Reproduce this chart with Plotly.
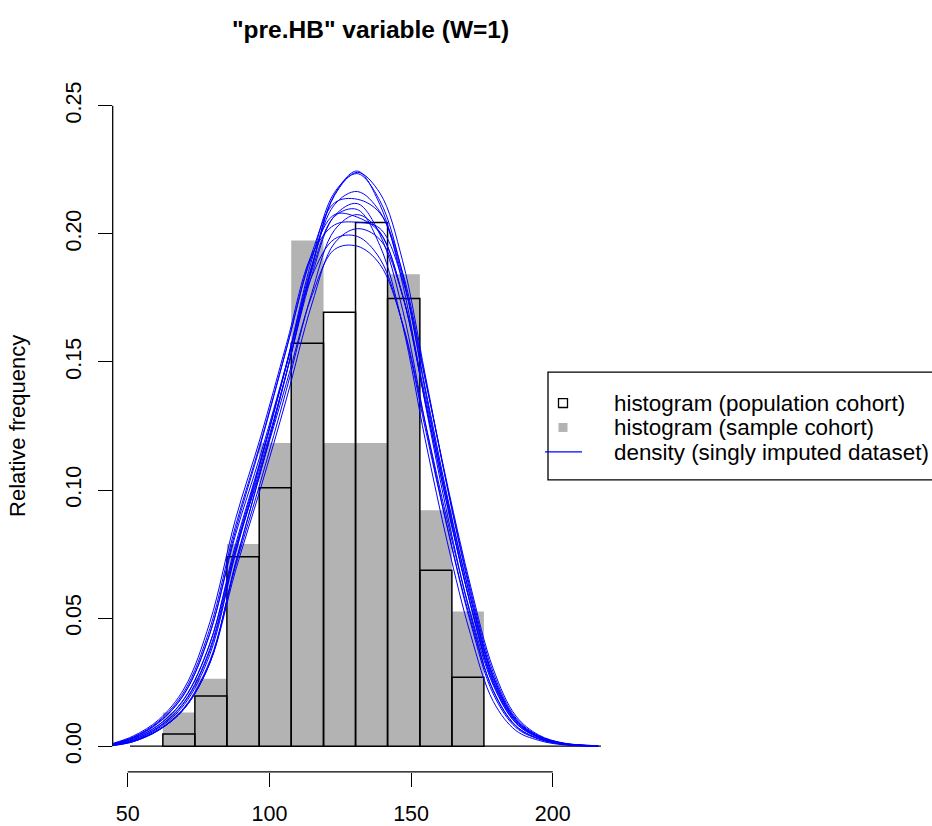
import plotly.graph_objects as go

# ---------------- data ----------------
bin_edges = [62.4, 73.7, 85.0, 96.4, 107.7, 119.1, 130.4, 141.7, 153.1, 164.4, 175.7]
sample_relfreq = [0.0132, 0.0263, 0.0789, 0.1184, 0.1974, 0.1184, 0.1184, 0.1842, 0.0921, 0.0526]
population_relfreq = [0.0048, 0.0196, 0.0740, 0.1009, 0.1573, 0.1694, 0.2044, 0.1748, 0.0687, 0.0269]

dens_x = [45, 52, 61, 70, 79, 88, 97, 106, 115, 123, 131, 139, 147, 155, 163, 171, 179, 187, 195, 204, 216]
dens_a = [0.0003, 0.0018, 0.0063, 0.0147, 0.0326, 0.0713, 0.1077, 0.1456, 0.1871, 0.2154, 0.2245, 0.2114, 0.1805, 0.1336, 0.0894, 0.0510, 0.0216, 0.0078, 0.0029, 0.0007, 0.0001]
dens_b = [0.0005, 0.0022, 0.0071, 0.0163, 0.0358, 0.0752, 0.1113, 0.1492, 0.1900, 0.2162, 0.2235, 0.2129, 0.1843, 0.1387, 0.0943, 0.0551, 0.0244, 0.0090, 0.0034, 0.0008, 0.0001]
dens_c = [0.0006, 0.0026, 0.0077, 0.0174, 0.0380, 0.0770, 0.1118, 0.1488, 0.1878, 0.2114, 0.2165, 0.2086, 0.1830, 0.1399, 0.0964, 0.0576, 0.0264, 0.0100, 0.0037, 0.0010, 0.0001]
dens_d = [0.0009, 0.0033, 0.0092, 0.0204, 0.0439, 0.0840, 0.1182, 0.1550, 0.1925, 0.2121, 0.2135, 0.2081, 0.1850, 0.1435, 0.1002, 0.0609, 0.0287, 0.0110, 0.0041, 0.0011, 0.0002]
dens_e = [0.0007, 0.0029, 0.0083, 0.0185, 0.0400, 0.0786, 0.1123, 0.1484, 0.1857, 0.2068, 0.2095, 0.1954, 0.1644, 0.1196, 0.0786, 0.0436, 0.0175, 0.0061, 0.0023, 0.0005, 0.0001]
dens_f = [0.0010, 0.0036, 0.0098, 0.0215, 0.0459, 0.0858, 0.1190, 0.1551, 0.1911, 0.2075, 0.2065, 0.2004, 0.1759, 0.1345, 0.0927, 0.0553, 0.0253, 0.0096, 0.0036, 0.0009, 0.0001]
dens_g = [0.0012, 0.0040, 0.0104, 0.0227, 0.0484, 0.0885, 0.1211, 0.1569, 0.1919, 0.2035, 0.2045, 0.2021, 0.1820, 0.1431, 0.1011, 0.0625, 0.0302, 0.0118, 0.0044, 0.0012, 0.0002]
dens_h = [0.0004, 0.0020, 0.0064, 0.0148, 0.0325, 0.0683, 0.1011, 0.1355, 0.1726, 0.1964, 0.2020, 0.1978, 0.1759, 0.1364, 0.0952, 0.0579, 0.0273, 0.0105, 0.0039, 0.0011, 0.0002]
dens_i = [0.0010, 0.0035, 0.0094, 0.0206, 0.0441, 0.0824, 0.1143, 0.1490, 0.1835, 0.1980, 0.1990, 0.1903, 0.1648, 0.1241, 0.0843, 0.0492, 0.0218, 0.0080, 0.0030, 0.0008, 0.0001]
dens_j = [0.0008, 0.0031, 0.0084, 0.0187, 0.0401, 0.0768, 0.1080, 0.1417, 0.1759, 0.1939, 0.1952, 0.1881, 0.1650, 0.1262, 0.0870, 0.0519, 0.0238, 0.0090, 0.0034, 0.0009, 0.0001]
dens_k = [0.0003, 0.0018, 0.0063, 0.0147, 0.0325, 0.0712, 0.1075, 0.1453, 0.1867, 0.2150, 0.2240, 0.2159, 0.1895, 0.1449, 0.0998, 0.0596, 0.0273, 0.0103, 0.0039, 0.0010, 0.0001]
dens_l = [0.0006, 0.0025, 0.0075, 0.0171, 0.0372, 0.0754, 0.1095, 0.1457, 0.1839, 0.2070, 0.2118, 0.1997, 0.1704, 0.1262, 0.0844, 0.0481, 0.0204, 0.0073, 0.0028, 0.0007, 0.0001]
dens_m = [0.0004, 0.0021, 0.0066, 0.0152, 0.0334, 0.0701, 0.1037, 0.1391, 0.1771, 0.2015, 0.2075, 0.2007, 0.1761, 0.1346, 0.0928, 0.0554, 0.0254, 0.0096, 0.0036, 0.0009, 0.0001]
density_curves = [dens_a, dens_b, dens_c, dens_d, dens_e, dens_f, dens_g,
                  dens_h, dens_i, dens_j, dens_k, dens_l, dens_m]

x_ticks = [50, 100, 150, 200]
y_ticks = [0.00, 0.05, 0.10, 0.15, 0.20, 0.25]
y_tick_labels = ["0.00", "0.05", "0.10", "0.15", "0.20", "0.25"]

title_text = '"pre.HB" variable (W=1)'
y_title = "Relative frequency"
legend_labels = ["histogram (population cohort)", "histogram (sample cohort)",
                 "density (singly imputed dataset)"]

# ---------------- layout geometry (pixels) ----------------
W, H = 932, 826
FONT = "Liberation Sans, Arial, Helvetica, sans-serif"
px_left, px_right = 112.7, 627.0
py_top, py_bottom = 80.3, 773.7
x_range = [44.7, 226.2]
y_range = [-0.01, 0.26]


def fx(px):
    return px / W


def fy(py):
    return 1 - py / H


centers = [(bin_edges[i] + bin_edges[i + 1]) / 2 for i in range(len(bin_edges) - 1)]
widths = [bin_edges[i + 1] - bin_edges[i] for i in range(len(bin_edges) - 1)]

fig = go.Figure()

# sample cohort: filled grey bars
fig.add_trace(go.Bar(x=centers, y=sample_relfreq, width=widths,
                     marker=dict(color="#B3B3B3", line=dict(width=0)),
                     showlegend=False, hoverinfo="skip"))
# population cohort: open black bars
fig.add_trace(go.Bar(x=centers, y=population_relfreq, width=widths,
                     marker=dict(color="rgba(0,0,0,0)", line=dict(color="black", width=1.5)),
                     showlegend=False, hoverinfo="skip"))
# density curves
for yy in density_curves:
    fig.add_trace(go.Scatter(x=dens_x, y=yy, mode="lines",
                             line=dict(color="#0000FF", width=1, shape="spline", smoothing=1.0),
                             showlegend=False, hoverinfo="skip"))

shapes = [
    # x axis line (first to last tick)
    dict(type="line", xref="x", yref="paper", x0=x_ticks[0], x1=x_ticks[-1],
         y0=fy(py_bottom), y1=fy(py_bottom), line=dict(color="black", width=1.3)),
    # y axis line
    dict(type="line", xref="paper", yref="y", x0=fx(px_left), x1=fx(px_left),
         y0=y_ticks[0], y1=y_ticks[-1], line=dict(color="black", width=1.3)),
    # baseline under histogram
    dict(type="line", xref="x", yref="y", x0=50.8, x1=217, y0=0, y1=0,
         line=dict(color="black", width=1.2), layer="below"),
    # legend box
    dict(type="rect", xref="paper", yref="paper", x0=fx(548), x1=1.02,
         y0=fy(481), y1=fy(373), line=dict(color="black", width=1.3)),
    # legend symbols
    dict(type="rect", xref="paper", yref="paper", x0=fx(558.5), x1=fx(567.5),
         y0=fy(408.5), y1=fy(399.5), line=dict(color="black", width=1.3)),
    dict(type="rect", xref="paper", yref="paper", x0=fx(558.5), x1=fx(567.5),
         y0=fy(433), y1=fy(424), fillcolor="#B3B3B3", line=dict(width=0)),
    dict(type="line", xref="paper", yref="paper", x0=fx(545), x1=fx(582),
         y0=fy(453), y1=fy(453), line=dict(color="#0000FF", width=1.4)),
]

annotations = [
    dict(text="<b>" + title_text + "</b>", x=fx(370), y=fy(30), xref="paper", yref="paper",
         showarrow=False, xanchor="center", yanchor="middle",
         font=dict(family=FONT, size=24.5, color="black")),
    dict(text=y_title, x=fx(18), y=fy(427), xref="paper", yref="paper", textangle=-90,
         showarrow=False, xanchor="center", yanchor="middle",
         font=dict(family=FONT, size=22, color="black")),
]
for lbl, py in zip(legend_labels, [404, 429, 454]):
    annotations.append(dict(text=lbl, x=fx(612), y=fy(py), xref="paper", yref="paper",
                            showarrow=False, xanchor="left", yanchor="middle",
                            font=dict(family=FONT, size=22.4, color="black")))

fig.update_layout(
    width=W, height=H, margin=dict(l=0, r=0, t=0, b=0),
    paper_bgcolor="white", plot_bgcolor="white",
    barmode="overlay", showlegend=False,
    font=dict(family=FONT, color="black"),
    xaxis=dict(domain=[fx(px_left), fx(px_right)], range=x_range,
               tickvals=x_ticks, ticks="outside", ticklen=14, tickwidth=1.3, tickcolor="black",
               showline=False, showgrid=False, zeroline=False,
               tickfont=dict(family=FONT, size=21.5, color="black"), ticklabelstandoff=8),
    yaxis=dict(domain=[fy(py_bottom), fy(py_top)], range=y_range,
               tickvals=y_ticks, ticktext=y_tick_labels, tickangle=-90,
               ticks="outside", ticklen=14, tickwidth=1.3, tickcolor="black",
               showline=False, showgrid=False, zeroline=False,
               tickfont=dict(family=FONT, size=21.5, color="black"), ticklabelstandoff=8),
    shapes=shapes, annotations=annotations,
)

fig.write_html("out.html")
